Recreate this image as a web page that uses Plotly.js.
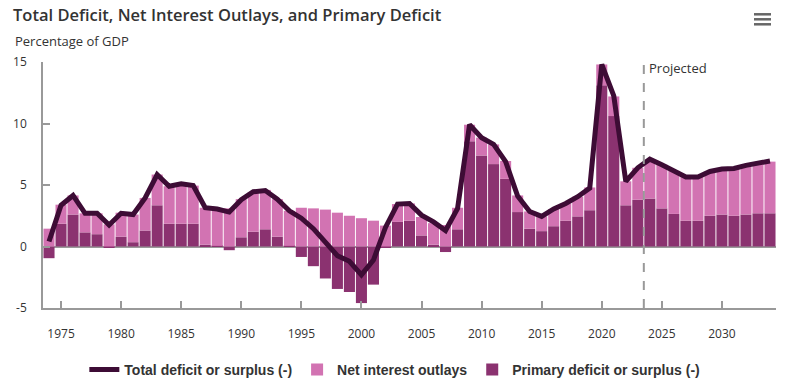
<!DOCTYPE html>
<html>
<head>
<meta charset="utf-8">
<script src="https://cdn.plot.ly/plotly-3.0.1.min.js"></script>
<style>html,body{margin:0;padding:0;background:#fff;}#chart{width:791px;height:391px;}</style>
</head>
<body>
<div id="chart"></div>
<script>
// Fiscal years
const years = [1974,1975,1976,1977,1978,1979,1980,1981,1982,1983,1984,1985,1986,1987,1988,1989,
  1990,1991,1992,1993,1994,1995,1996,1997,1998,1999,2000,2001,2002,2003,2004,2005,2006,2007,2008,2009,
  2010,2011,2012,2013,2014,2015,2016,2017,2018,2019,2020,2021,2022,2023,2024,2025,2026,2027,2028,2029,
  2030,2031,2032,2033,2034];

// Primary deficit or surplus (-), % of GDP
const primary = [-0.95,1.85,2.6,1.15,1.0,-0.1,0.8,0.35,1.3,3.35,1.85,1.85,1.85,0.15,0.05,-0.3,
  0.75,1.2,1.4,0.8,0.05,-0.85,-1.6,-2.6,-3.45,-3.7,-4.6,-3.1,-0.1,2.0,2.1,0.9,0.15,-0.45,1.4,8.55,
  7.4,6.7,5.5,2.8,1.45,1.25,1.65,2.1,2.45,2.95,13.1,10.6,3.35,3.8,3.9,3.1,2.65,2.1,2.1,2.5,
  2.6,2.5,2.6,2.7,2.7];

// Net interest outlays, % of GDP
const interest = [1.45,1.55,1.55,1.55,1.7,1.8,1.95,2.25,2.65,2.5,3.05,3.25,3.1,3.0,3.0,3.1,
  3.1,3.2,3.2,3.05,2.85,3.15,3.1,3.0,2.75,2.5,2.3,2.1,1.7,1.45,1.4,1.5,1.75,1.75,1.75,1.35,
  1.45,1.6,1.45,1.35,1.4,1.2,1.4,1.4,1.6,1.85,1.7,1.6,1.95,2.6,3.15,3.55,3.5,3.55,3.55,3.6,
  3.7,3.85,4.0,4.05,4.2];

// Total deficit or surplus (-), % of GDP
const total = [0.4,3.35,4.15,2.7,2.7,1.75,2.7,2.6,3.95,5.85,4.9,5.1,4.95,3.15,3.05,2.8,
  3.8,4.45,4.55,3.85,2.9,2.3,1.45,0.35,-0.75,-1.2,-2.3,-1.1,1.55,3.45,3.5,2.55,2.0,1.3,3.1,9.9,
  8.85,8.3,6.9,4.1,2.85,2.45,3.05,3.5,4.05,4.75,14.8,12.25,5.3,6.4,7.1,6.65,6.15,5.65,5.65,6.1,
  6.3,6.35,6.6,6.75,6.95];

const xTicks = [1975,1980,1985,1990,1995,2000,2005,2010,2015,2020,2025,2030];
const yTicks = [-5,0,5,10,15];
const projStart = 2023.5;

const tickFont = {family: '"Open Sans", sans-serif', size: 12, color: '#333'};

const traces = [
  {type:'bar', name:'Primary deficit or surplus (-)', x:years, y:primary,
   marker:{color:'#8B3270', line:{width:0}}, legendrank:3, hoverinfo:'x+y'},
  {type:'bar', name:'Net interest outlays', x:years, y:interest,
   marker:{color:'#D273B2', line:{width:0}}, legendrank:2, hoverinfo:'x+y'},
  {type:'scatter', mode:'lines', name:'Total deficit or surplus (-)', x:years, y:total,
   line:{color:'#3D0C35', width:5}, legendrank:1, hoverinfo:'x+y'}
];

// hamburger icon bars (paper coords)
const px = v => (v-43)/733, py = v => (308-v)/246;
const menuShapes = [14.3,19.3,24.3].map(yy => ({type:'line', xref:'paper', yref:'paper',
  x0:px(754), x1:px(771), y0:py(yy), y1:py(yy), line:{color:'#666', width:2.5}}));

const layout = {
  width:791, height:391,
  margin:{l:43, r:15, t:62, b:83, autoexpand:false},
  paper_bgcolor:'#fff', plot_bgcolor:'#fff',
  barmode:'relative', bargap:0.08,
  showlegend:true,
  legend:{orientation:'h', x:0.48, xanchor:'center', xref:'paper',
    y:(391-370)/391, yanchor:'middle', yref:'container',
    font:{family:'"Liberation Sans", Arial, sans-serif', size:14, color:'#333', weight:'bold'},
    traceorder:'normal'},
  title:{text:'Total Deficit, Net Interest Outlays, and Primary Deficit',
    x:13/791, xanchor:'left', xref:'container', y:1-15/391, yanchor:'middle', yref:'container',
    font:{family:'"Open Sans", sans-serif', size:16.5, color:'#333', weight:600}},
  xaxis:{range:[1973.5, 2034.5], tickvals:xTicks, ticktext:xTicks.map(String),
    ticks:'inside', ticklen:7, tickcolor:'#999', tickwidth:1.5,
    showline:true, linecolor:'#999', linewidth:1.5, showgrid:false, zeroline:false,
    tickfont:tickFont, ticklabelstandoff:14, fixedrange:true, automargin:false},
  yaxis:{range:[-5,15], tickvals:yTicks, ticktext:yTicks.map(String),
    ticks:'inside', ticklen:7, tickcolor:'#999', tickwidth:1.5,
    showline:true, linecolor:'#999', linewidth:1.5, showgrid:false,
    zeroline:true, zerolinecolor:'#999', zerolinewidth:1.5,
    tickfont:tickFont, ticklabelstandoff:12, fixedrange:true, automargin:false},
  shapes:[
    {type:'line', xref:'x', yref:'paper', x0:projStart, x1:projStart, y0:0, y1:1,
     line:{color:'#999', width:2, dash:'dash'}},
    ...menuShapes
  ],
  annotations:[
    {text:'Percentage of GDP', xref:'paper', yref:'paper', x:px(13), y:py(41),
     xanchor:'left', yanchor:'middle', showarrow:false,
     font:{family:'"Open Sans", sans-serif', size:13, color:'#333'}},
    {text:'Projected', xref:'x', yref:'paper', x:projStart, y:py(68),
     xanchor:'left', yanchor:'middle', xshift:3, showarrow:false,
     font:{family:'"Open Sans", sans-serif', size:13, color:'#333'}}
  ]
};

Plotly.newPlot('chart', traces, layout, {displayModeBar:false, responsive:false});
</script>
</body>
</html>
